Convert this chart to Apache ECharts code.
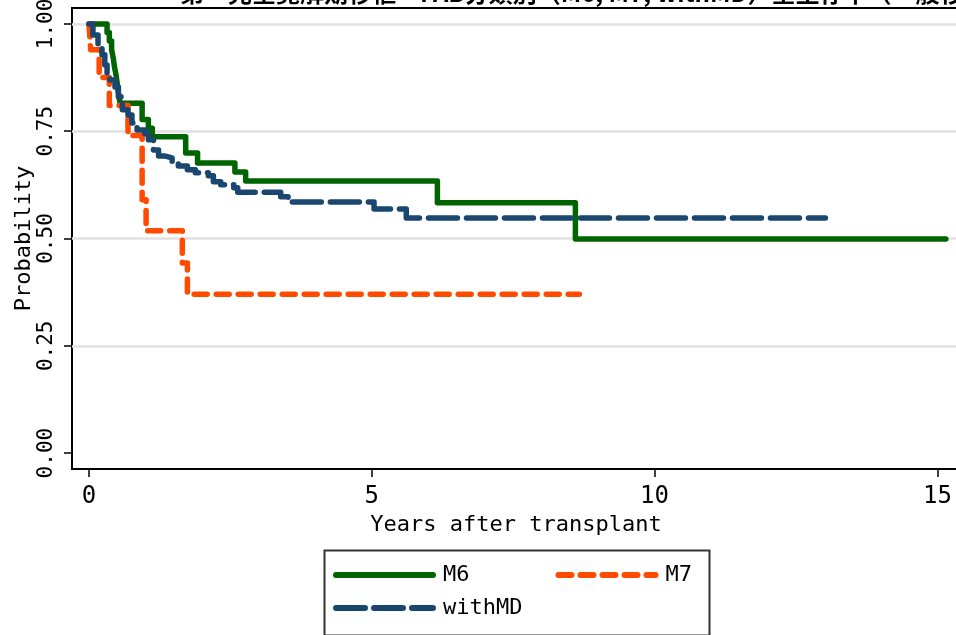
<!DOCTYPE html>
<html>
<head>
<meta charset="utf-8">
<script src="https://cdn.jsdelivr.net/npm/echarts@6/dist/echarts.min.js"></script>
<style>
  html, body { margin: 0; padding: 0; background: #fff; }
  #chart { width: 956px; height: 635px; }
</style>
</head>
<body>
<div id="chart"></div>
<script>
// 生存曲線 (years, survival) : KM step points
var m6 = [
  [0, 1.0], [0.32, 0.98], [0.36, 0.96], [0.40, 0.94], [0.43, 0.92], [0.45, 0.90],
  [0.48, 0.88], [0.50, 0.86], [0.52, 0.84], [0.55, 0.815], [0.94, 0.777],
  [1.05, 0.757], [1.12, 0.737], [1.71, 0.699], [1.92, 0.676], [2.58, 0.655],
  [2.77, 0.634], [6.16, 0.583], [8.60, 0.499], [15.15, 0.499]
];
var m7 = [
  [0, 1.0], [0.03, 0.94], [0.18, 0.875], [0.36, 0.81], [0.69, 0.74],
  [0.94, 0.59], [1.01, 0.518], [1.65, 0.443], [1.74, 0.37], [8.67, 0.37]
];
var withMD = [
  [0, 1.0], [0.07, 0.974], [0.16, 0.951], [0.23, 0.928], [0.28, 0.904],
  [0.32, 0.886], [0.37, 0.869], [0.46, 0.853], [0.52, 0.830], [0.59, 0.800],
  [0.69, 0.788], [0.76, 0.769], [0.85, 0.753], [0.99, 0.744], [1.05, 0.730],
  [1.14, 0.706], [1.23, 0.692], [1.35, 0.688], [1.47, 0.678], [1.58, 0.669],
  [1.74, 0.660], [1.88, 0.653], [2.11, 0.646], [2.20, 0.632], [2.33, 0.625],
  [2.56, 0.618], [2.63, 0.608], [3.39, 0.597], [3.52, 0.585], [5.04, 0.569],
  [5.61, 0.548], [13.02, 0.548]
];
var xTicks = [0, 5, 10, 15];
var yTicks = [0, 0.25, 0.5, 0.75, 1];
var gridValues = [0.25, 0.5, 0.75, 1];

var mono = '"DejaVu Sans Mono", monospace';
var chart = echarts.init(document.getElementById('chart'));

var legendBase = {
  padding: 0, itemWidth: 97, itemHeight: 22,
  itemStyle: { opacity: 0 },
  lineStyle: { width: 6, cap: 'round' },
  textStyle: {
    fontFamily: mono, fontSize: 22, color: '#000',
    rich: { n: { fontFamily: mono, fontSize: 22, color: '#000', padding: [0, 0, 0, 5] } }
  },
  formatter: function (name) { return '{n|' + name + '}'; }
};

chart.setOption({
  animation: false,
  grid: {
    left: 72, right: -4, top: 8, bottom: 166,
    outerBoundsMode: 'none',
    show: true, borderColor: '#000', borderWidth: 2
  },
  graphic: [{
    type: 'text', left: 180, top: -19, silent: true,
    style: {
      text: '第一完全寛解期移植　FAB分類別（M6, M7, withMD）全生存率（一般移植）',
      font: 'bold 24px "Noto Sans CJK JP"', fill: '#000'
    }
  }, {
    type: 'rect', left: 322, top: 548, silent: true,
    shape: { width: 385, height: 85 },
    style: { fill: 'none', stroke: '#333', lineWidth: 2 }
  }],
  xAxis: {
    type: 'value', min: -0.3, max: 15.4,
    name: 'Years after transplant', nameLocation: 'middle', nameGap: 45, nameMoveOverlap: false,
    nameTextStyle: { fontFamily: mono, fontSize: 22, color: '#000' },
    axisLine: { show: true, onZero: false, lineStyle: { color: '#000', width: 2 } },
    axisTick: { show: true, length: 8, customValues: xTicks, lineStyle: { color: '#000', width: 1.5 } },
    axisLabel: { customValues: xTicks, fontFamily: mono, fontSize: 24, color: '#000', margin: 16 },
    splitLine: { show: false }
  },
  yAxis: {
    type: 'value', min: -0.037, max: 1.037,
    name: 'Probability', nameLocation: 'middle', nameGap: 37, nameRotate: 90, nameMoveOverlap: false,
    nameTextStyle: { fontFamily: mono, fontSize: 22, color: '#000' },
    axisLine: { show: true, onZero: false, lineStyle: { color: '#000', width: 2 } },
    axisTick: { show: true, length: 8, customValues: yTicks, lineStyle: { color: '#000', width: 1.5 } },
    axisLabel: {
      customValues: yTicks, rotate: 90, fontFamily: mono, fontSize: 21, color: '#000', margin: 15,
      formatter: function (v) { return v.toFixed(2); }
    },
    splitLine: { show: false }
  },
  legend: [
    Object.assign({}, legendBase, { left: 333, top: 564, itemGap: 86, data: ['M6', 'M7'] }),
    Object.assign({}, legendBase, { left: 333, top: 597, data: ['withMD'] })
  ],
  series: [{
    type: 'line', name: 'grid', data: [], z: 1, silent: true,
    markLine: {
      silent: true, z: 1, symbol: 'none', label: { show: false },
      lineStyle: { color: '#e1e1e1', width: 2.5, type: 'solid' },
      data: gridValues.map(function (v) { return { yAxis: v }; })
    }
  }, {
    type: 'line', name: 'M6', data: m6, step: 'end', symbol: 'none', z: 3,
    lineStyle: { color: '#006400', width: 5.5, cap: 'round', join: 'round' },
    itemStyle: { color: '#006400' }
  }, {
    type: 'line', name: 'M7', data: m7, step: 'end', symbol: 'none', z: 4,
    lineStyle: { color: '#ff4a00', width: 5.5, type: [13, 9], cap: 'round', join: 'round' },
    itemStyle: { color: '#ff4a00' }
  }, {
    type: 'line', name: 'withMD', data: withMD, step: 'end', symbol: 'none', z: 5,
    lineStyle: { color: '#1a476f', width: 5.5, type: [29, 9], cap: 'round', join: 'round' },
    itemStyle: { color: '#1a476f' }
  }]
});
</script>
</body>
</html>
